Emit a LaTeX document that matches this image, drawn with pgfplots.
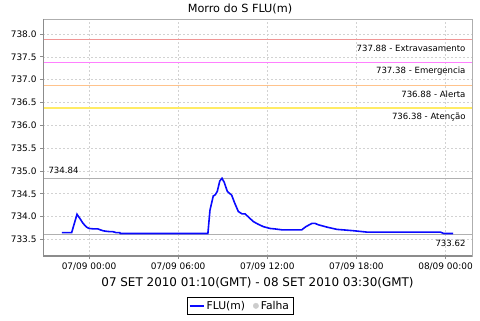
\documentclass[border=0pt]{standalone}
\usepackage{fontspec}
\setmainfont{DejaVu Sans}
\usepackage{pgfplots}
\pgfplotsset{compat=1.18}
\definecolor{thrRed}{RGB}{240,150,150}
\definecolor{thrMag}{RGB}{255,128,255}
\definecolor{thrOra}{RGB}{255,195,140}
\definecolor{thrYel}{RGB}{255,235,100}
\definecolor{refGray}{RGB}{176,176,176}
\definecolor{gridGray}{RGB}{210,210,210}
\definecolor{axGray}{RGB}{140,140,140}
\definecolor{fluBlue}{RGB}{10,10,255}
\begin{document}
\begin{tikzpicture}[x=1bp,y=1bp]
\useasboundingbox (0,0) rectangle (480,320);
\node[font=\fontsize{11.3}{13}\selectfont] at (240,311) {Morro do S FLU(m)};
\begin{axis}[
  at={(43bp,64bp)}, anchor=south west,
  scale only axis, width=429bp, height=237bp,
  xmin=-3.1, xmax=25.78, ymin=733.136, ymax=738.33,
  xtick={0,6,12,18,24},
  xticklabels={07/09 00:00,07/09 06:00,07/09 12:00,07/09 18:00,08/09 00:00},
  ytick={733.5,734,734.5,735,735.5,736,736.5,737,737.5,738},
  /pgf/number format/assume math mode=true,
  yticklabel style={/pgf/number format/.cd, fixed, fixed zerofill, precision=1},
  tick label style={font=\fontsize{9}{10}\selectfont},
  xtick pos=bottom, ytick pos=left,
  tick align=outside, major tick length=3bp,
  tick style={axGray, line width=0.8bp},
  grid=major,
  major grid style={gridGray, dash pattern=on 2bp off 2bp, line width=0.6bp},
  axis line style={axGray!70, line width=0.6bp},
  xlabel={07 SET 2010 01:10(GMT) - 08 SET 2010 03:30(GMT)},
  xlabel style={at={(axis description cs:0.5,-0.114)}, anchor=center, font=\fontsize{12}{14}\selectfont},
  legend style={at={(axis description cs:0.459,-0.173)}, anchor=north, legend columns=2, draw=black,
    font=\fontsize{10.8}{12}\selectfont, inner sep=1.8bp},
  legend cell align=left,
]
% threshold lines
\addplot[thrRed, line width=1.1bp, forget plot] coordinates {(-3.1,737.88) (25.78,737.88)};
\addplot[thrMag, line width=1.1bp, forget plot] coordinates {(-3.1,737.38) (25.78,737.38)};
\addplot[thrOra, line width=1.1bp, forget plot] coordinates {(-3.1,736.88) (25.78,736.88)};
\addplot[thrYel, line width=1.1bp, forget plot] coordinates {(-3.1,736.38) (25.78,736.38)};
% max / min reference lines
\addplot[refGray, line width=0.8bp, forget plot] coordinates {(-3.1,734.84) (25.78,734.84)};
\addplot[refGray, line width=0.8bp, forget plot] coordinates {(-3.1,733.62) (25.78,733.62)};
% data
\addplot[fluBlue, line width=1.6bp, forget plot] coordinates {
(-1.83,733.65) (-1.17,733.65) (-0.81,734.05) (-0.6,733.95) (-0.4,733.85) (-0.17,733.77) (0,733.74)
(0.3,733.73) (0.6,733.73) (0.75,733.71) (0.94,733.69) (1.1,733.68) (1.4,733.67) (1.6,733.67)
(1.8,733.65) (2.07,733.65) (2.1,733.63) (8.0,733.63) (8.14,734.14) (8.36,734.45) (8.5,734.48)
(8.63,734.55) (8.8,734.78) (8.95,734.84) (9.1,734.75) (9.31,734.55) (9.6,734.47) (9.8,734.3)
(10.05,734.11) (10.3,734.06) (10.5,734.06) (10.8,733.97) (11.06,733.89) (11.4,733.83) (11.73,733.78)
(12.18,733.74) (12.5,733.73) (12.97,733.71) (14.32,733.71) (14.6,733.78) (15.0,733.85) (15.22,733.85)
(15.44,733.82) (16.0,733.77) (16.68,733.72) (17.8,733.69) (18.7,733.66) (23.65,733.66) (23.87,733.63)
(24.5,733.63)};
\addlegendimage{legend image code/.code={\draw[fluBlue, line width=1.8bp] (0bp,0bp) -- (14bp,0bp);}}
\addlegendentry{FLU(m)\kern6bp}
\addlegendimage{legend image code/.code={\fill[gray!40] (10bp,0bp) circle (2.7bp);}}
\addlegendentry{Falha}
% labels
\node[anchor=east, font=\fontsize{8.6}{10}\selectfont, xshift=-3bp, yshift=-9bp] at (axis cs:25.78,737.88) {737.88 - Extravasamento};
\node[anchor=east, font=\fontsize{8.6}{10}\selectfont, xshift=-3bp, yshift=-9bp] at (axis cs:25.78,737.38) {737.38 - Emergencia};
\node[anchor=east, font=\fontsize{8.6}{10}\selectfont, xshift=-3bp, yshift=-9bp] at (axis cs:25.78,736.88) {736.88 - Alerta};
\node[anchor=east, font=\fontsize{8.6}{10}\selectfont, xshift=-3bp, yshift=-9bp] at (axis cs:25.78,736.38) {736.38 - Atenção};
\node[anchor=east, font=\fontsize{8.6}{10}\selectfont, xshift=-3bp, yshift=-9.5bp] at (axis cs:25.78,733.62) {733.62};
\node[anchor=west, font=\fontsize{8.6}{10}\selectfont, xshift=2bp, yshift=7.5bp] at (axis cs:-3.1,734.84) {734.84};
\draw[axGray, line width=1.2bp] (rel axis cs:0,1) -- (rel axis cs:0,0) -- (rel axis cs:1,0);
\end{axis}
\end{tikzpicture}
\end{document}
